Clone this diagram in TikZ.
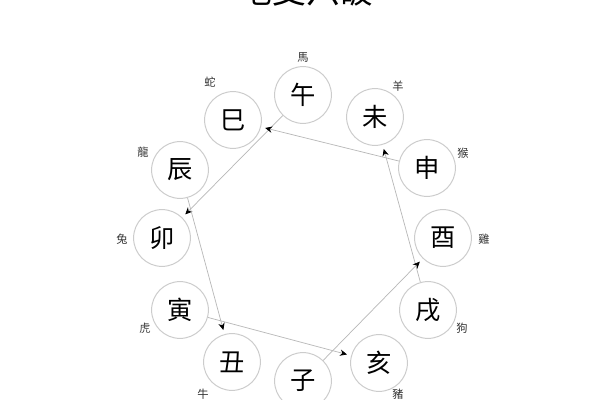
\documentclass[tikz,border=0pt]{standalone}
\usepackage{fontspec}
\usepackage{xcolor}
\usepackage{tikz}
\newfontfamily\cjk{Noto Sans CJK TC}
\usetikzlibrary{arrows.meta}
\definecolor{rand}{rgb}{0.80, 0.80, 0.80}
\definecolor{linie}{rgb}{0.72, 0.72, 0.72}

\begin{document}
\begin{tikzpicture}[x=0.025cm, y=-0.025cm,
    zhi/.style={circle, draw=rand, line width=0.7pt, minimum size=1.42cm, inner sep=0pt,
        font=\cjk\fontsize{18}{18}\selectfont},
    tier/.style={font=\cjk\fontsize{8}{8}\selectfont, text=black!80},
    po/.style={draw=linie, line width=0.5pt, -{Stealth[black, length=5pt, width=4.5pt]}, shorten >=3pt}]
            % Rahmen
            \useasboundingbox[fill=white] (0,0) rectangle (600,400);

            % Titel (oben abgeschnitten)
            \node[font=\cjk\fontsize{24}{24}\selectfont] (titel) at (306,-9) {地支六破};

            % Zwoelf Erdzweige
            \node[zhi] (wu)   at (303,95)  {午};
            \node[zhi] (si)   at (233,120) {巳};
            \node[zhi] (wei)  at (375,117) {未};
            \node[zhi] (chen) at (180,170) {辰};
            \node[zhi] (shen) at (427,168) {申};
            \node[zhi] (mao)  at (162,238) {卯};
            \node[zhi] (you)  at (443,238) {酉};
            \node[zhi] (yin)  at (180,310) {寅};
            \node[zhi] (xu)   at (428,310) {戌};
            \node[zhi] (chou) at (232,362) {丑};
            \node[zhi] (hai)  at (379,363) {亥};
            \node[zhi] (zi)   at (303,381) {子};

            % Tiere
            \node[tier] (ma)   at (303,58)  {馬};
            \node[tier] (she)  at (210,82)  {蛇};
            \node[tier] (yang) at (398,86)  {羊};
            \node[tier] (long) at (143,152) {龍};
            \node[tier] (hou)  at (463,153) {猴};
            \node[tier] (tu)   at (122,239) {兔};
            \node[tier] (ji)   at (484,239) {雞};
            \node[tier] (hu)   at (145,328) {虎};
            \node[tier] (gou)  at (462,328) {狗};
            \node[tier] (niu)  at (203,394) {牛};
            \node[tier] (zhu)  at (398,394) {豬};

            % Sechs Brueche
            \draw[po] (wu) -- (mao);
            \draw[po] (shen) -- (si);
            \draw[po] (xu) -- (wei);
            \draw[po] (zi) -- (you);
            \draw[po] (yin) -- (hai);
            \draw[po] (chen) -- (chou);
        \end{tikzpicture}
\end{document}
